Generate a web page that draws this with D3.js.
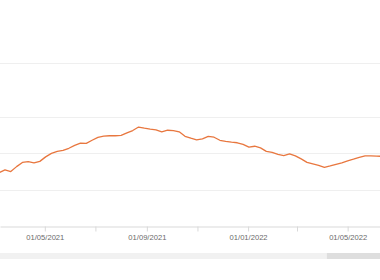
<!DOCTYPE html>
<html>
<head>
<meta charset="utf-8">
<script src="https://cdn.jsdelivr.net/npm/d3@7"></script>
<style>
  body { margin: 0; background: #fff; }
  svg { display: block; font-family: Roboto, "Noto Sans", sans-serif; }
</style>
</head>
<body>
<svg id="chart" width="380" height="280"></svg>
<script>
// weekly series, starting 07/03/2021
const start_date = "2021-03-07"
const values = [36.7, 38.6, 37.4, 40.8, 43.7, 44.3, 43.4, 44.4, 47.5, 49.9,
  51.3, 51.9, 53.4, 55.4, 57.0, 56.8, 58.9, 60.9, 61.8, 62.0,
  62.0, 62.3, 64.0, 65.6, 68.0, 67.2, 66.5, 66.1, 64.7, 65.8,
  65.6, 64.7, 61.6, 60.3, 59.2, 59.9, 61.6, 61.0, 58.9, 58.2,
  57.6, 57.2, 56.1, 54.2, 54.8, 53.7, 51.3, 50.6, 49.2, 48.4,
  49.6, 48.2, 46.1, 43.7, 42.7, 41.7, 40.3, 41.3, 42.4, 43.4,
  44.8, 45.9, 47.2, 48.2, 48.2, 48.0, 47.9]

const grid_values = [25, 50, 75, 112]
const tick_dates = ["2021-05-01", "2021-07-01", "2021-09-01", "2021-11-01", "2022-01-01", "2022-03-01", "2022-05-01", "2022-07-01"]
const label_dates = ["2021-05-01", "2021-09-01", "2022-01-01", "2022-05-01"]

// navigator window (selected part)
const window_start = "2022-04-06"

const parse = d3.timeParse("%Y-%m-%d")
const first = parse(start_date)
const data = values.map((v, i) => ({date: d3.timeDay.offset(first, i * 7), value: v}))

const width = 380
const height = 280
const marginTop = 63
const axisY = 226

const x = d3.scaleTime()
  .domain([parse("2021-03-08"), parse("2022-06-09")])
  .range([0, width])

const y = d3.scaleLinear()
  .domain([0, 112])
  .range([axisY, marginTop])

const svg = d3.select("#chart")

// grid lines
svg.append("g")
  .selectAll("line")
  .data(grid_values)
  .join("line")
  .attr("x1", 0)
  .attr("x2", width)
  .attr("y1", d => Math.round(y(d)) + 0.5)
  .attr("y2", d => Math.round(y(d)) + 0.5)
  .attr("stroke", "#efefef")
  .attr("stroke-width", 1)

// x axis
const fmt = d3.timeFormat("%d/%m/%Y")
const axis = svg.append("g")
  .attr("transform", `translate(0,${axisY + 0.5})`)
  .call(d3.axisBottom(x)
    .tickValues(tick_dates.map(parse))
    .tickSize(5)
    .tickSizeOuter(0)
    .tickFormat(d => label_dates.includes(d3.timeFormat("%Y-%m-%d")(d)) ? fmt(d) : ""))

axis.select(".domain").attr("stroke", "#d9d9d9")
axis.selectAll(".tick line").attr("stroke", "#d9d9d9")
axis.selectAll(".tick text")
  .attr("fill", "#6a6a6a")
  .attr("font-size", "7.6px")
  .attr("dy", "0.71em")
  .attr("y", 8)

// series line
svg.append("path")
  .datum(data)
  .attr("fill", "none")
  .attr("stroke", "#e8773f")
  .attr("stroke-width", 1.3)
  .attr("stroke-linejoin", "round")
  .attr("d", d3.line().x(d => x(d.date)).y(d => y(d.value)))

// navigator bar
svg.append("rect")
  .attr("x", 0)
  .attr("y", 253)
  .attr("width", width)
  .attr("height", 6)
  .attr("fill", "#f1f1f1")

svg.append("rect")
  .attr("x", x(parse(window_start)))
  .attr("y", 253)
  .attr("width", width - x(parse(window_start)))
  .attr("height", 6)
  .attr("fill", "#dedede")
</script>
</body>
</html>
